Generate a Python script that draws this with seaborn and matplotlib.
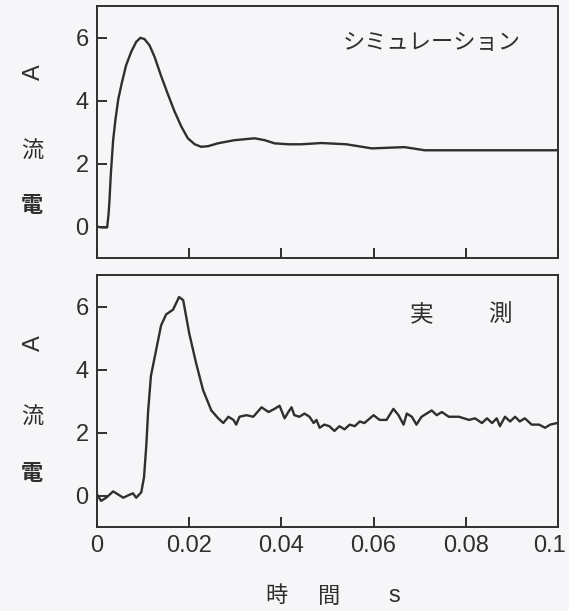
import numpy as np
import pandas as pd
import matplotlib
matplotlib.use("Agg")
import matplotlib.pyplot as plt
import matplotlib.transforms as mtransforms
import seaborn as sns

# ---- data ----
sim_t = [0.0, 0.0009, 0.0022, 0.0025, 0.0027, 0.003, 0.0035, 0.004, 0.0046, 0.0054,
         0.0063, 0.0074, 0.0085, 0.0094, 0.0103, 0.0114, 0.0125, 0.0139, 0.0154, 0.0168,
         0.0183, 0.0197, 0.0212, 0.0226, 0.0241, 0.0262, 0.0298, 0.0342, 0.0364, 0.0385,
         0.0415, 0.0443, 0.0487, 0.0541, 0.0596, 0.0667, 0.0711, 0.0835, 0.1]
sim_i = [0.0, -0.03, -0.03, 0.38, 0.81, 1.67, 2.74, 3.39, 4.03, 4.57,
         5.11, 5.54, 5.86, 5.99, 5.95, 5.75, 5.38, 4.78, 4.19, 3.66,
         3.17, 2.8, 2.61, 2.53, 2.55, 2.64, 2.74, 2.8, 2.74, 2.64,
         2.61, 2.61, 2.65, 2.61, 2.48, 2.52, 2.42, 2.42, 2.42]

meas_t = [0.0, 0.0009, 0.002, 0.0035, 0.0046, 0.0057, 0.0067, 0.0078, 0.0085, 0.0096,
          0.0102, 0.0107, 0.0111, 0.0117, 0.0128, 0.0139, 0.015, 0.0165, 0.0178, 0.0187,
          0.02, 0.0215, 0.023, 0.0248, 0.0263, 0.0274, 0.0285, 0.0296, 0.0302, 0.0309,
          0.0324, 0.0339, 0.0357, 0.0372, 0.0385, 0.0396, 0.0407, 0.0415, 0.0422, 0.0428,
          0.0439, 0.045, 0.0461, 0.047, 0.0476, 0.0483, 0.0493, 0.0504, 0.0515, 0.0526,
          0.0537, 0.0548, 0.0559, 0.057, 0.058, 0.06, 0.0613, 0.0628, 0.0643, 0.0654,
          0.0665, 0.0672, 0.0683, 0.0693, 0.0704, 0.0715, 0.0726, 0.0737, 0.0748, 0.0763,
          0.0785, 0.0807, 0.082, 0.0835, 0.0846, 0.0857, 0.0867, 0.0874, 0.0885, 0.0896,
          0.0907, 0.0917, 0.0928, 0.0943, 0.0959, 0.0972, 0.0983, 0.0998]
meas_i = [0.03, -0.17, -0.07, 0.13, 0.03, -0.07, 0.0, 0.07, -0.07, 0.1,
          0.58, 1.6, 2.7, 3.8, 4.6, 5.4, 5.75, 5.9, 6.3, 6.2,
          5.15, 4.2, 3.35, 2.7, 2.45, 2.3, 2.5, 2.4, 2.25, 2.5,
          2.55, 2.5, 2.8, 2.65, 2.75, 2.85, 2.45, 2.65, 2.8, 2.55,
          2.5, 2.6, 2.5, 2.3, 2.4, 2.15, 2.25, 2.2, 2.05, 2.2,
          2.1, 2.25, 2.2, 2.35, 2.3, 2.55, 2.4, 2.4, 2.75, 2.55,
          2.25, 2.6, 2.5, 2.25, 2.5, 2.6, 2.7, 2.55, 2.65, 2.5,
          2.5, 2.4, 2.45, 2.3, 2.45, 2.3, 2.45, 2.2, 2.5, 2.35,
          2.5, 2.35, 2.45, 2.25, 2.25, 2.15, 2.25, 2.3]

x_ticks = [0, 0.02, 0.04, 0.06, 0.08, 0.1]
x_ticklabels = ["0", "0.02", "0.04", "0.06", "0.08", "0.1"]
y_ticks = [0, 2, 4, 6]

# ---- style ----
sns.set_style("ticks")
BG = "#f6f5f7"
INK = "#2f2f2f"
NUM_FONT = ["Liberation Sans", "DejaVu Sans"]
CJK_FONT = ["Noto Sans CJK JP", "DejaVu Sans"]
plt.rcParams["font.family"] = NUM_FONT
plt.rcParams["text.color"] = INK
plt.rcParams["axes.edgecolor"] = INK
plt.rcParams["xtick.color"] = INK
plt.rcParams["ytick.color"] = INK

W, H = 569, 611
fig = plt.figure(figsize=(W / 100, H / 100), dpi=100, facecolor=BG)

def px_rect(l, t, r, b):
    return [l / W, 1 - b / H, (r - l) / W, (b - t) / H]

ax1 = fig.add_axes(px_rect(97, 6, 558, 258))
ax2 = fig.add_axes(px_rect(97, 275, 558, 527))

sim_df = pd.DataFrame({"t": sim_t, "i": sim_i})
meas_df = pd.DataFrame({"t": meas_t, "i": meas_i})

sns.lineplot(data=sim_df, x="t", y="i", ax=ax1, color=INK, linewidth=1.7,
             estimator=None, sort=False)
sns.lineplot(data=meas_df, x="t", y="i", ax=ax2, color=INK, linewidth=1.7,
             estimator=None, sort=False)

for ax in (ax1, ax2):
    ax.set_facecolor(BG)
    ax.set_xlim(0, 0.1)
    ax.set_ylim(-1, 7)
    ax.set_xticks(x_ticks)
    ax.set_yticks(y_ticks)
    ax.set_yticklabels([str(v) for v in y_ticks])
    ax.tick_params(direction="in", length=7, width=1.4, labelsize=17, pad=6)
    for s in ax.spines.values():
        s.set_visible(True)
        s.set_linewidth(1.4)
    ax.set_xlabel("")
    ax.set_ylabel("")

ax1.set_xticklabels([])
ax2.set_xticklabels(x_ticklabels)
# keep the last tick label inside the figure
last = ax2.get_xticklabels()[-1]
last.set_transform(last.get_transform() +
                   mtransforms.ScaledTranslation(-8 / 100, 0, fig.dpi_scale_trans))

# vertical y-labels: 電 流 upright, A rotated
def ylab(y_den, y_ryu, y_a):
    fig.text(32 / W, 1 - y_den / H, "電", family=CJK_FONT, fontsize=16,
             ha="center", va="center", color=INK, fontweight="bold")
    fig.text(32 / W, 1 - y_ryu / H, "流", family=CJK_FONT, fontsize=16,
             ha="center", va="center", color=INK)
    fig.text(34 / W, 1 - y_a / H, "A", family=NUM_FONT, fontsize=17,
             ha="center", va="center", rotation=90, color=INK)

ylab(205, 151, 72)
ylab(473, 417, 343)

ax1.text(0.0726, 5.85, "シミュレーション", family=CJK_FONT, fontsize=16,
         ha="center", va="center", color=INK)
ax2.text((420 - 96) / 4600, 5.72, "実", family=CJK_FONT, fontsize=17,
         ha="center", va="center", color=INK)
ax2.text((498 - 96) / 4600, 5.72, "測", family=CJK_FONT, fontsize=17,
         ha="center", va="center", color=INK)

# x-axis label 時 間 s
for xp, ch, fam in ((276, "時", CJK_FONT), (329, "間", CJK_FONT), (394, "s", NUM_FONT)):
    fig.text(xp / W, 1 - 596 / H, ch, family=fam, fontsize=16 if fam is CJK_FONT else 17,
             ha="center", va="center", color=INK)

fig.savefig("out.png", dpi=100, facecolor=BG)
